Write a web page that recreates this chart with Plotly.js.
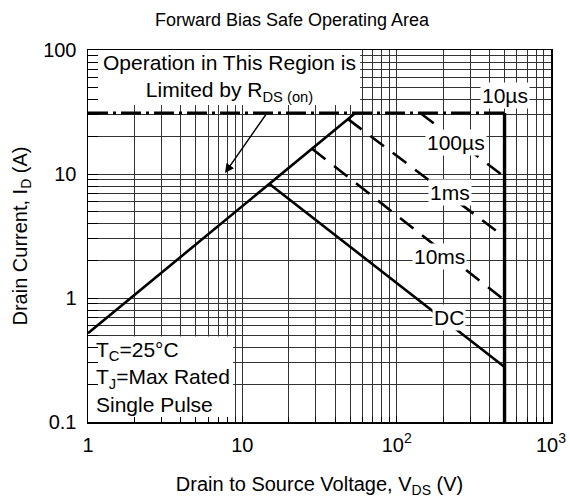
<!DOCTYPE html>
<html>
<head>
<meta charset="utf-8">
<script src="https://cdn.plot.ly/plotly-3.0.1.min.js"></script>
<style>html,body{margin:0;padding:0;background:#fff;}#chart{width:570px;height:501px;}</style>
</head>
<body>
<div id="chart"></div>
<script>
// ---- data (V in volts, I in amps) ----
const rdsV = [1, 54];          const rdsI = [0.52, 31];      // R_DS(on) limit
const limitV = [1, 500];       const limitI = [31, 31];      // current limit (10µs)
const bvV = [500, 500];        const bvI = [31, 0.1];        // voltage limit
const t100usV = [142, 500];    const t100usI = [31, 9.5];
const t1msV = [48.4, 500];     const t1msI = [27.7, 3.1];
const t10msV = [28.3, 500];    const t10msI = [16.0, 0.96];
const dcV = [15, 500];         const dcI = [8.3, 0.278];

const xMajor = [1, 10, 100, 1000];
const xMajorText = ['1', '10', '10<sup>2</sup>', '10<sup>3</sup>'];
const yMajor = [0.1, 1, 10, 100];
const yMajorText = ['0.1', '1', '10', '100'];
const xMinor = [2,3,4,5,6,7,8,9,20,30,40,50,60,70,80,90,200,300,400,500,600,700,800,900];
const yMinor = [0.2,0.3,0.4,0.5,0.6,0.7,0.8,0.9,2,3,4,5,6,7,8,9,20,30,40,50,60,70,80,90];

const FONT = 'Liberation Sans, Arial, Helvetica, sans-serif';
const solid = {color:'#000', width:2.6};
const dashed = {color:'#000', width:2.6, dash:'17px,11px'};

const traces = [
  {x: rdsV, y: rdsI, mode:'lines', line: solid},
  {x: limitV, y: limitI, mode:'lines', line:{color:'#000', width:3, dash:'20px,5px,3px,5px'}},
  {x: bvV, y: bvI, mode:'lines', line:{color:'#000', width:3.4}},
  {x: t100usV, y: t100usI, mode:'lines', line: dashed},
  {x: t1msV, y: t1msI, mode:'lines', line: dashed},
  {x: t10msV, y: t10msI, mode:'lines', line: dashed},
  {x: dcV, y: dcI, mode:'lines', line: solid}
];

function px2lx(px){ return (px-88)/154.33; }
function py2ly(py){ return 2-(py-50)/124; }

const labelFont = {family: FONT, size: 21, color:'#000'};
function lbl(text, px, py){
  return {x: px2lx(px), y: py2ly(py), xref:'x', yref:'y', text: text, showarrow:false,
          font: labelFont, bgcolor:'#fff', borderpad:1};
}

const gridCol = '#333';
const layout = {
  width:570, height:501,
  margin:{l:88, r:19, t:50, b:79},
  paper_bgcolor:'#fff', plot_bgcolor:'#fff',
  showlegend:false,
  font:{family: FONT, size:19, color:'#000'},
  title:{text:'Forward Bias Safe Operating Area', font:{family:FONT, size:18, color:'#000'},
         x: 292/570, xanchor:'center', y: 1-20/501, yanchor:'middle'},
  xaxis:{type:'log', range:[0,3], tickmode:'array', tickvals:xMajor, ticktext:xMajorText,
         showgrid:true, gridcolor:gridCol, gridwidth:1,
         ticks:'inside', ticklen:6, tickcolor:'#000',
         minor:{tickmode:'array', tickvals:xMinor, showgrid:true, gridcolor:gridCol, gridwidth:1,
                ticks:'inside', ticklen:5, tickcolor:'#000'},
         showline:true, linecolor:'#000', linewidth:1.5, mirror:true,
         tickfont:{family:FONT, size:20, color:'#000'}, ticklabelstandoff:4,
         zeroline:false,
         title:{text:'Drain to Source Voltage, V<sub>DS</sub> (V)', font:{family:FONT, size:20, color:'#000'}, standoff:22}},
  yaxis:{type:'log', range:[-1,2], tickmode:'array', tickvals:yMajor, ticktext:yMajorText,
         showgrid:true, gridcolor:gridCol, gridwidth:1,
         ticks:'inside', ticklen:10, tickcolor:'#000',
         minor:{tickmode:'array', tickvals:yMinor, showgrid:true, gridcolor:gridCol, gridwidth:1,
                ticks:'inside', ticklen:10, tickcolor:'#000'},
         showline:true, linecolor:'#000', linewidth:1.5, mirror:true,
         tickfont:{family:FONT, size:20, color:'#000'}, ticklabelstandoff:6,
         zeroline:false,
         title:{text:'Drain Current, I<sub>D</sub> (A)', font:{family:FONT, size:20, color:'#000'}, standoff:10}},
  shapes:[
    {type:'rect', xref:'x', yref:'y', layer:'between', x0:1.03, x1:58, y0:36, y1:100,
     fillcolor:'#fff', line:{width:0}},
    {type:'rect', xref:'x', yref:'y', layer:'between', x0:1.03, x1:8.7, y0:0.1, y1:0.49,
     fillcolor:'#fff', line:{width:0}}
  ],
  annotations:[
    {x: px2lx(229), y: py2ly(78), xref:'x', yref:'y', showarrow:false, align:'center',
     text:'Operation in This Region is<br>Limited by R<sub>DS (on)</sub>', font: labelFont},
    {x: px2lx(94), y: py2ly(377), xref:'x', yref:'y', showarrow:false, align:'left', xanchor:'left',
     text:'T<sub>C</sub>=25°C<br>T<sub>J</sub>=Max Rated<br>Single Pulse', font: labelFont},
    {x: px2lx(225), y: py2ly(173), ax: px2lx(267), ay: py2ly(113), xref:'x', yref:'y', axref:'x', ayref:'y',
     showarrow:true, arrowhead:2, arrowsize:1.3, arrowwidth:1.4, arrowcolor:'#000', text:''},
    lbl('10µs', 505, 95),
    lbl('100µs', 456, 142),
    lbl('1ms', 450, 192),
    lbl('10ms', 439, 256),
    lbl('DC', 449, 317)
  ]
};

Plotly.newPlot('chart', traces, layout, {staticPlot:true, displayModeBar:false});
</script>
</body>
</html>
